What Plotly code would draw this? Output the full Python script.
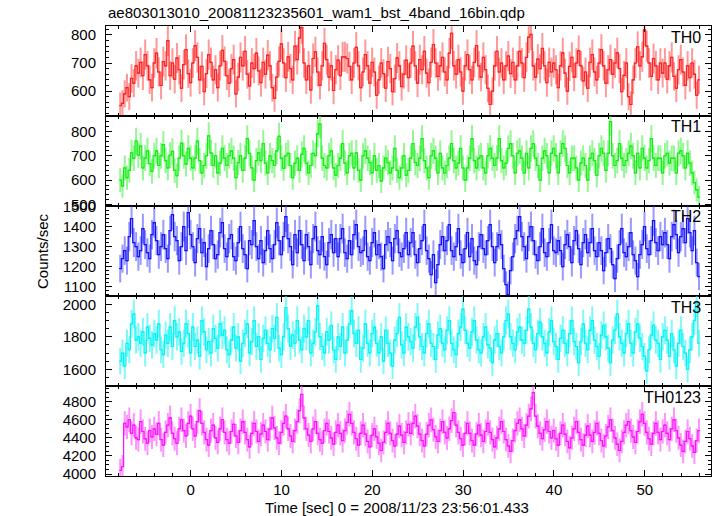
import numpy as np
import plotly.graph_objects as go
from plotly.subplots import make_subplots

# time bins (0.25 s) starting near -7.8 s
t_start = -7.775
bin_width = 0.25

th0 = [
548, 556, 590, 612, 580, 645, 628, 690, 664, 702, 655, 730, 690, 640, 612, 700,
735, 668, 620, 705, 690, 780, 655, 700, 642, 718, 676, 610, 694, 748, 662, 630,
700, 762, 720, 640, 688, 598, 662, 730, 702, 640, 676, 612, 690, 745, 706, 655,
628, 680, 712, 590, 650, 720, 690, 742, 660, 618, 700, 680, 735, 672, 630, 702,
660, 728, 690, 612, 574, 650, 706, 768, 700, 648, 722, 680, 640, 760, 712, 790,
826, 700, 640, 690, 604, 716, 740, 668, 620, 690, 770, 712, 650, 690, 602, 676,
710, 655, 722, 722, 716, 688, 640, 700, 756, 690, 612, 668, 730, 690, 628, 702,
668, 585, 640, 700, 662, 610, 705, 680, 598, 644, 718, 690, 616, 660, 710, 648,
700, 760, 690, 628, 712, 676, 742, 664, 630, 702, 766, 700, 652, 690, 720, 668,
640, 735, 806, 690, 660, 712, 668, 600, 690, 730, 676, 640, 702, 762, 690, 650,
720, 676, 610, 552, 600, 690, 742, 668, 700, 640, 690, 725, 662, 702, 640, 690,
742, 700, 648, 720, 792, 802, 690, 650, 714, 680, 752, 690, 630, 702, 668, 700,
676, 612, 690, 736, 664, 600, 688, 720, 650, 700, 744, 690, 636, 668, 610, 702,
730, 668, 640, 700, 748, 690, 628, 676, 712, 660, 700, 736, 680, 598, 656, 700,
580, 552, 640, 700, 758, 690, 722, 818, 760, 700, 652, 716, 690, 640, 700, 664,
700, 642, 690, 720, 652, 610, 676, 712, 668, 620, 690, 648, 700, 660, 585, 640,
]

th1 = [
600, 576, 650, 610, 640, 712, 690, 760, 702, 740, 650, 690, 720, 668, 636, 700,
720, 660, 700, 746, 680, 650, 702, 718, 640, 618, 690, 752, 700, 666, 730, 690,
650, 690, 760, 680, 630, 660, 700, 782, 712, 660, 700, 630, 670, 730, 690, 660,
700, 720, 690, 610, 672, 700, 640, 690, 770, 710, 650, 600, 680, 712, 680, 750,
670, 630, 700, 680, 660, 720, 780, 690, 648, 700, 710, 660, 610, 670, 690, 640,
706, 730, 670, 630, 660, 710, 700, 790, 830, 690, 660, 650, 700, 720, 650, 620,
660, 690, 750, 670, 630, 700, 710, 650, 712, 640, 600, 700, 720, 690, 672, 630,
700, 640, 660, 596, 650, 690, 672, 630, 650, 730, 640, 610, 650, 700, 620, 640,
690, 750, 672, 660, 690, 770, 680, 650, 610, 700, 720, 690, 630, 710, 650, 630,
660, 690, 750, 680, 650, 670, 730, 650, 600, 650, 690, 770, 680, 650, 690, 700,
650, 630, 700, 730, 690, 660, 690, 770, 680, 650, 670, 730, 750, 700, 630, 710,
720, 690, 630, 710, 650, 730, 750, 690, 660, 600, 690, 720, 700, 630, 710, 730,
700, 630, 710, 750, 730, 660, 630, 690, 690, 650, 600, 670, 690, 660, 600, 690,
710, 680, 620, 700, 730, 710, 640, 710, 840, 700, 660, 680, 750, 690, 660, 680,
710, 740, 700, 630, 710, 650, 730, 690, 650, 680, 770, 690, 660, 690, 690, 630,
700, 710, 670, 690, 690, 630, 710, 720, 700, 650, 710, 670, 630, 590, 560, 530,
]

th2 = [
1190, 1240, 1280, 1230, 1350, 1440, 1320, 1300, 1250, 1280, 1390, 1310, 1270, 1240, 1360, 1420,
1330, 1260, 1300, 1360, 1290, 1240, 1380, 1460, 1350, 1330, 1230, 1300, 1400, 1280, 1470, 1360,
1300, 1220, 1340, 1390, 1270, 1320, 1200, 1290, 1380, 1310, 1240, 1260, 1370, 1420, 1290, 1250,
1340, 1360, 1250, 1230, 1320, 1400, 1290, 1260, 1190, 1330, 1310, 1430, 1300, 1240, 1330, 1220,
1280, 1380, 1290, 1240, 1310, 1420, 1330, 1260, 1350, 1450, 1340, 1300, 1210, 1360, 1270, 1380,
1310, 1230, 1360, 1300, 1210, 1340, 1400, 1280, 1260, 1350, 1250, 1210, 1320, 1360, 1270, 1340,
1250, 1340, 1390, 1270, 1240, 1330, 1260, 1360, 1410, 1300, 1270, 1280, 1380, 1250, 1230, 1320,
1370, 1260, 1310, 1250, 1190, 1310, 1350, 1320, 1230, 1340, 1380, 1270, 1250, 1290, 1370, 1260,
1320, 1370, 1260, 1220, 1290, 1330, 1410, 1280, 1240, 1160, 1260, 1120, 1210, 1310, 1350, 1280,
1330, 1410, 1280, 1250, 1300, 1390, 1260, 1220, 1290, 1370, 1250, 1340, 1230, 1210, 1300, 1360,
1290, 1260, 1330, 1410, 1300, 1220, 1300, 1360, 1310, 1190, 1110, 1060, 1180, 1250, 1340, 1380,
1450, 1350, 1300, 1240, 1350, 1400, 1330, 1260, 1230, 1300, 1390, 1270, 1250, 1320, 1410, 1280,
1270, 1330, 1280, 1200, 1310, 1360, 1300, 1220, 1330, 1380, 1290, 1210, 1320, 1360, 1270, 1320,
1390, 1280, 1250, 1320, 1280, 1180, 1270, 1340, 1290, 1210, 1140, 1240, 1310, 1390, 1270, 1250,
1300, 1370, 1260, 1230, 1150, 1260, 1310, 1400, 1290, 1260, 1330, 1430, 1320, 1280, 1350, 1310,
1370, 1310, 1240, 1350, 1410, 1360, 1270, 1350, 1390, 1320, 1440, 1370, 1280, 1380, 1220, 1150,
]

th3 = [
1650, 1700, 1620, 1760, 1720, 1880, 1940, 1780, 1800, 1760, 1830, 1700, 1860, 1790, 1750, 1820,
1780, 1880, 1720, 1690, 1810, 1760, 1860, 1740, 1900, 1800, 1830, 1710, 1760, 1880, 1820, 1700,
1860, 1740, 1780, 1680, 1900, 1830, 1720, 1770, 1700, 1850, 1790, 1730, 1880, 1810, 1840, 1720,
1690, 1780, 1860, 1730, 1800, 1650, 1760, 1820, 1880, 1700, 1770, 1900, 1740, 1800, 1660, 1790,
1840, 1760, 1720, 1850, 1790, 1920, 1730, 1690, 1800, 1980, 1850, 1740, 1810, 1760, 1900, 1780,
1720, 1850, 1800, 1900, 1700, 1760, 1830, 1990, 1800, 1740, 1700, 1830, 1780, 1870, 1720, 1660,
1800, 1740, 1860, 1700, 1780, 1880, 1960, 1820, 1760, 1840, 1660, 1730, 1880, 1760, 1700, 1820,
1860, 1760, 1700, 1800, 1650, 1840, 1760, 1700, 1620, 1780, 1820, 1920, 1750, 1700, 1860, 1800,
1770, 1730, 1860, 1920, 1800, 1740, 1700, 1820, 1880, 1760, 1740, 1660, 1810, 1850, 1760, 1720,
1840, 1900, 1760, 1720, 1690, 1820, 1860, 1970, 1840, 1760, 1730, 1830, 1900, 1780, 1720, 1700,
1800, 1860, 1750, 1730, 1640, 1780, 1820, 1740, 1700, 1800, 1900, 1940, 1800, 1760, 1720, 1830,
1860, 1780, 1760, 1840, 1970, 1860, 1760, 1720, 1820, 1890, 1800, 1760, 1700, 1830, 1900, 1770,
1740, 1660, 1790, 1840, 1760, 1700, 1820, 1900, 1770, 1740, 1640, 1770, 1880, 1760, 1720, 1840,
1900, 1780, 1740, 1680, 1810, 1870, 1800, 1730, 1640, 1780, 1840, 1940, 1800, 1760, 1700, 1820,
1880, 1760, 1700, 1830, 1880, 1790, 1740, 1680, 1590, 1720, 1810, 1870, 1780, 1760, 1660, 1800,
1840, 1780, 1680, 1820, 1720, 1620, 1760, 1840, 1740, 1700, 1600, 1720, 1800, 1900, 2010, 1760,
]

th0123 = [
4040, 4080, 4560, 4520, 4600, 4450, 4540, 4400, 4380, 4580, 4470, 4390, 4340, 4480, 4410, 4500,
4440, 4560, 4380, 4320, 4460, 4540, 4620, 4450, 4390, 4340, 4500, 4600, 4480, 4420, 4560, 4640,
4500, 4420, 4580, 4700, 4560, 4460, 4380, 4320, 4480, 4540, 4400, 4350, 4500, 4600, 4460, 4380,
4340, 4470, 4550, 4420, 4350, 4480, 4580, 4460, 4380, 4300, 4450, 4560, 4470, 4360, 4440, 4540,
4470, 4380, 4500, 4620, 4510, 4400, 4340, 4460, 4560, 4640, 4500, 4420, 4360, 4480, 4580, 4700,
4880, 4620, 4500, 4430, 4360, 4500, 4580, 4450, 4380, 4340, 4480, 4560, 4470, 4400, 4330, 4460,
4540, 4450, 4370, 4480, 4570, 4660, 4560, 4460, 4390, 4320, 4450, 4540, 4440, 4360, 4300, 4430,
4500, 4410, 4340, 4260, 4350, 4460, 4560, 4450, 4370, 4310, 4440, 4530, 4430, 4350, 4460, 4550,
4450, 4560, 4640, 4530, 4440, 4370, 4310, 4440, 4540, 4600, 4490, 4410, 4360, 4480, 4580, 4460,
4400, 4500, 4590, 4680, 4540, 4460, 4390, 4320, 4450, 4560, 4450, 4370, 4320, 4440, 4540, 4430,
4360, 4470, 4560, 4460, 4380, 4300, 4400, 4500, 4580, 4470, 4380, 4310, 4250, 4370, 4480, 4560,
4600, 4500, 4420, 4540, 4640, 4720, 4900, 4640, 4530, 4450, 4390, 4490, 4580, 4470, 4400, 4480,
4390, 4320, 4450, 4540, 4440, 4360, 4290, 4400, 4500, 4580, 4460, 4380, 4320, 4430, 4530, 4430,
4360, 4460, 4560, 4450, 4370, 4310, 4420, 4520, 4600, 4480, 4400, 4330, 4260, 4360, 4460, 4540,
4580, 4480, 4410, 4350, 4470, 4580, 4660, 4560, 4460, 4390, 4330, 4450, 4560, 4460, 4380, 4470,
4540, 4450, 4380, 4500, 4600, 4480, 4400, 4320, 4250, 4360, 4470, 4390, 4310, 4240, 4370, 4480,
]

band_names = ["TH0", "TH1", "TH2", "TH3", "TH0123"]
band_values = [th0, th1, th2, th3, th0123]
band_colors = ["#ff2020", "#10f010", "#1010ff", "#00f5f5", "#ff10ff"]
band_err_colors = ["rgba(255,70,70,0.55)", "rgba(60,240,60,0.55)", "rgba(70,70,255,0.55)",
                   "rgba(40,245,245,0.6)", "rgba(255,60,255,0.55)"]
y_ranges = [[511, 832], [494, 863], [1053, 1503], [1497, 2051], [3978, 4973]]
y_dticks = [100, 100, 100, 200, 200]
y_minor = [20, 20, 20, 50, 50]

title_text = "ae803013010_20081123235601_wam1_bst_4band_16bin.qdp"
x_title = "Time [sec] 0 = 2008/11/23 23:56:01.433"
y_title = "Counts/sec"

fig = make_subplots(rows=5, cols=1, shared_xaxes=True, vertical_spacing=0)

font_family = "Liberation Sans, Arial, Helvetica, sans-serif"

for i, (name, vals) in enumerate(zip(band_names, band_values)):
    v = np.array(vals, dtype=float)
    t = t_start + bin_width * np.arange(len(v))
    err = np.sqrt(v * bin_width) / bin_width  # Poisson error on the rate
    fig.add_trace(go.Scatter(
        x=t, y=v, mode="lines",
        line=dict(color=band_colors[i], width=1.2, shape="hvh"),
        error_y=dict(type="data", array=err, visible=True, color=band_err_colors[i],
                     thickness=2, width=0),
        error_x=dict(type="constant", value=bin_width / 2, visible=True,
                     color=band_colors[i], thickness=1, width=0),
        hoverinfo="skip", showlegend=False,
    ), row=i + 1, col=1)

    fig.update_yaxes(
        range=y_ranges[i], dtick=y_dticks[i], tick0=0,
        ticks="inside", ticklen=6, tickwidth=1, tickcolor="black",
        minor=dict(dtick=y_minor[i], tick0=0, ticks="inside", ticklen=3, tickcolor="black"),
        showline=True, linecolor="black", linewidth=1, mirror="ticks",
        showgrid=False, zeroline=False, automargin=False,
        tickfont=dict(family=font_family, size=15, color="black"),
        ticklabelstandoff=6,
        row=i + 1, col=1,
    )
    fig.update_xaxes(
        range=[-9.34, 57.3], dtick=10, tick0=0,
        ticks="inside", ticklen=6, tickwidth=1, tickcolor="black",
        minor=dict(dtick=2, tick0=0, ticks="inside", ticklen=3, tickcolor="black"),
        showline=True, linecolor="black", linewidth=1, mirror="ticks",
        showgrid=False, zeroline=False, automargin=False,
        showticklabels=(i == 4),
        tickfont=dict(family=font_family, size=15, color="black"),
        row=i + 1, col=1,
    )
    yref = "y domain" if i == 0 else f"y{i + 1} domain"
    xref = "x domain" if i == 0 else f"x{i + 1} domain"
    fig.add_annotation(text=name, xref=xref, yref=yref, x=0.987, y=1 - 11 / 90,
                       xanchor="right", yanchor="middle", showarrow=False,
                       font=dict(family=font_family, size=16, color="black"))

fig.add_annotation(text=title_text, xref="paper", yref="paper", x=0.0, y=1 + 14 / 450,
                   xanchor="left", yanchor="middle", showarrow=False,
                   font=dict(family=font_family, size=15, color="black"))
fig.add_annotation(text=x_title, xref="paper", yref="paper", x=(397 - 106) / 605, y=-31 / 450,
                   xanchor="center", yanchor="middle", showarrow=False,
                   font=dict(family=font_family, size=15, color="black"))
fig.add_annotation(text=y_title, xref="paper", yref="paper", x=-(106 - 42) / 605, y=0.5,
                   xanchor="center", yanchor="middle", showarrow=False, textangle=-90,
                   font=dict(family=font_family, size=15, color="black"))

fig.update_layout(
    width=717, height=516,
    margin=dict(l=106, r=6, t=26, b=40, autoexpand=False),
    paper_bgcolor="white", plot_bgcolor="white",
    showlegend=False,
)

# remove the default 8px page margin so the figure sits at the window's corner
fig.write_html("out.html", config={"displayModeBar": False},
               post_script="document.body.style.margin='0';")
